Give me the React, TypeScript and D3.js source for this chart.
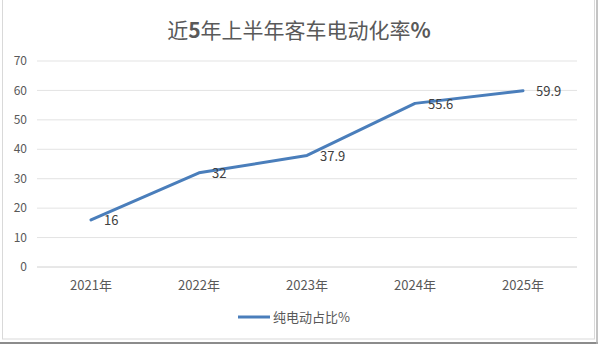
import React from "react";
import * as d3 from "d3";

const categories = ["2021年", "2022年", "2023年", "2024年", "2025年"];
const values = [16, 32, 37.9, 55.6, 59.9];
const valueLabels = ["16", "32", "37.9", "55.6", "59.9"];
const yTicks = [0, 10, 20, 30, 40, 50, 60, 70];
const titleParts = [
  { t: "近", b: false },
  { t: "5", b: true },
  { t: "年上半年客车电动化率", b: false },
  { t: "%", b: true },
];
const seriesName = "纯电动占比%";

const W = 600;
const H = 345;
const FONT = "'Noto Sans CJK SC', 'Microsoft YaHei', sans-serif";
const TXT = "#595959";
const LINE = "#4A7EBB";

export default function App() {
  const x = d3.scaleBand<string>().domain(categories).range([37, 577]);
  const y = d3.scaleLinear().domain([0, 70]).range([267, 61]);
  const cx = (c: string) => (x(c) ?? 0) + x.bandwidth() / 2;
  const line = d3
    .line<number>()
    .x((_, i) => cx(categories[i]))
    .y((d) => y(d));

  return (
    <svg
      width={W}
      height={H}
      style={{ position: "absolute", left: 0, top: 0, background: "#fff" }}
      fontFamily={FONT}
    >
      <rect x={0} y={0} width={W} height={H} fill="#fff" />
      <rect x={2.5} y={-1} width={592} height={340} fill="#fff" stroke="#d9d9d9" strokeWidth={1} />
      <line x1={0} x2={598} y1={343} y2={343} stroke="#8c8c8c" strokeWidth={2} />
      <line x1={597} x2={597} y1={0} y2={344} stroke="#b0b0b0" strokeWidth={1.5} />
      <text x={299} y={38} textAnchor="middle" fontSize={21} fill={TXT}>
        {titleParts.map((p, i) => (
          <tspan key={i} fontWeight={p.b ? "bold" : "normal"}>
            {p.t}
          </tspan>
        ))}
      </text>
      {yTicks.map((t) => (
        <g key={t}>
          <line x1={37} x2={577} y1={y(t)} y2={y(t)} stroke={t === 0 ? "#d0d0d0" : "#e3e3e3"} strokeWidth={1} />
          <text x={27} y={y(t)} dy="0.35em" textAnchor="end" fontSize={12} fill={TXT}>
            {t}
          </text>
        </g>
      ))}
      {categories.map((c) => (
        <text key={c} x={cx(c)} y={290} textAnchor="middle" fontSize={13} fill={TXT}>
          {c}
        </text>
      ))}
      <path d={line(values) ?? ""} fill="none" stroke={LINE} strokeWidth={3} strokeLinecap="round" strokeLinejoin="round" />
      {values.map((v, i) => (
        <text key={i} x={cx(categories[i]) + 13} y={y(v)} dy="0.4em" fontSize={13} fill="#404040">
          {valueLabels[i]}
        </text>
      ))}
      <line x1={238} x2={270} y1={317} y2={317} stroke={LINE} strokeWidth={3} />
      <text x={273} y={317} dy="0.35em" fontSize={13} fill={TXT}>
        {seriesName}
      </text>
    </svg>
  );
}
